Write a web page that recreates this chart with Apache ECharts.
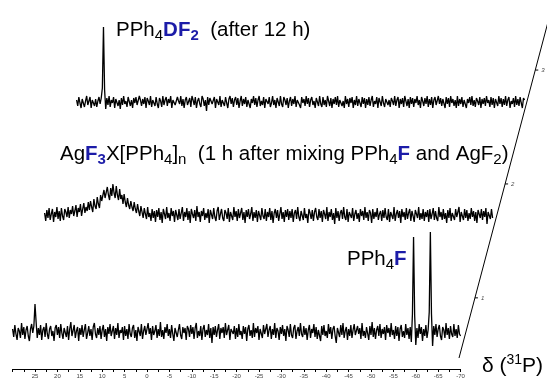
<!DOCTYPE html>
<html>
<head>
<meta charset="utf-8">
<script src="https://cdn.jsdelivr.net/npm/echarts@6/dist/echarts.min.js"></script>
<style>
html,body{margin:0;padding:0;background:#fff}
#Chart{width:547px;height:379px}
</style>
</head>
<body>
<div id="Chart"></div>
<script>
var ppmStart=30,ppmStep=-0.25
var axisMin=-70,axisMax=30,axisInterval=5
var zTicks=['1','2','3']

//PPh4F
var specBottom=[
3,-5,7,-2,-8,4,1,-6,9,-3,5,-7,2,6,-4,-9,3,8,-1,6,
28,10,-6,4,-3,7,-8,2,5,-5,9,-2,-7,3,6,-4,1,-9,4,7,
-3,5,-6,8,-1,-7,4,2,-5,6,-8,3,10,-4,-2,7,-6,1,5,-9,
4,-3,7,-5,2,8,-7,-1,6,-4,3,-8,5,9,-2,-6,4,-3,6,-7,
2,7,-5,3,-9,5,-2,8,-4,1,6,-7,4,-3,9,-6,2,-1,5,-8,
6,-4,3,-7,8,-2,-5,4,7,-6,2,-9,5,3,-4,8,-7,1,6,-3,
-5,9,-2,4,-8,6,-3,1,7,-6,3,-4,10,-5,2,-7,5,-1,8,-4,
3,-6,7,-2,-9,4,6,-5,2,8,-3,-7,5,-1,4,-8,6,3,-5,7,
-2,5,-7,4,9,-6,1,-4,6,-8,3,7,-5,2,-3,8,-6,4,-11,5,
-3,6,-5,2,8,-7,4,-1,5,-6,9,-3,-4,7,-8,3,5,-2,6,-7,
4,-5,8,-3,1,-7,6,-2,5,-9,3,7,-4,2,-6,9,-5,4,-1,6,
-8,3,5,-6,7,-2,-4,8,-5,2,6,-7,3,-3,9,-6,4,1,-8,5,
-2,7,-4,3,-9,6,2,-5,8,-3,-6,4,7,-7,1,5,-4,9,-2,-5,
6,-3,4,-8,2,7,-6,3,-1,8,-5,5,-7,2,4,-9,6,-3,7,-4,
1,-6,8,-2,5,-7,3,6,-4,-11,4,2,-5,7,-3,9,-6,1,5,-8,
3,-4,7,-6,2,8,-3,-5,6,-2,4,-7,9,-4,1,-6,5,3,-8,6,
-3,10,-5,4,-7,2,6,-4,8,-6,3,-2,5,-8,7,-1,4,-5,9,-3,
2,-7,6,-4,5,-9,3,7,-5,1,-6,8,-3,4,-7,5,-10,18,95,16,
-13,4,-6,8,-2,5,-9,3,-4,7,-6,2,20,100,18,-14,6,-3,8,-5,
3,7,-4,-8,5,2,-6,9,-3,4,-7,6,-2,-5,8,-4,3,-6,7,-2,
-4
]

//AgF3X[PPh4]n
var specMiddle=[
2,-6,5,-3,7,-5,1,6,-7,3,-2,8,-4,4,-6,7,-1,-5,6,3,
-2,8,-3,5,1,9,-1,4,10,-2,7,3,11,-1,6,12,2,8,4,13,
5,14,8,3,16,9,6,18,11,7,20,14,12,25,17,15,28,20,15,27,
19,31,22,17,29,20,15,26,16,20,11,21,13,8,17,10,6,14,8,4,
13,6,2,11,4,-1,9,3,-3,7,1,-4,8,-2,2,-6,6,-3,4,-7,
5,-2,7,-5,3,-8,6,1,-4,8,-3,2,-6,7,-1,4,-7,5,3,-5,
6,-4,2,8,-6,3,-2,7,-5,4,-8,6,1,-3,5,-6,9,-2,3,-7,
4,-1,7,-5,2,-3,6,-8,5,3,-4,7,-2,-6,4,8,-5,1,6,-3,
-6,5,2,-4,7,-7,3,1,-5,8,-2,4,-6,6,-3,-1,7,-5,3,-8,
5,-2,6,-4,1,8,-6,3,-3,5,-7,4,2,-5,7,-1,-4,6,-6,3,
-2,7,-5,4,-8,2,6,-3,5,-6,1,8,-4,3,-7,5,-2,6,-5,4,
-3,6,-7,2,5,-4,8,-2,-6,4,3,-5,7,-3,1,-8,6,2,-4,5,
-6,3,7,-2,-5,6,-3,4,-7,5,1,-4,8,-6,3,-2,6,-5,2,-9,
7,-3,4,-6,2,5,-4,8,-2,-5,6,-7,3,4,-3,7,-6,1,5,-4,
2,-7,6,-1,4,-5,8,-3,3,-6,5,2,-8,6,-4,3,-2,7,-5,1,
4,-6,5,-3,7,-2,-5,6,-7,3,2,-4,8,-6,1,5,-3,4,-8,6,
-2,3,-5,7,-4,2,6,-6,4,-1,-7,5,3,-3,8,-5,2,-4,6,-6,
3,-2,5,-7,6,-4,1,7,-5,4,-3,-6,8,-2,3,-5,6,-4,2,-8,
5,-3,7,-6,2,4,-5,6,-2,-4,8,-7,3,1,-5,6,-3,5,-6,2,
-4,7,-2,4,-6,3,-8,5,1,-3,6,-5,4,-2,7,-9,3,5,-4,6,
-3
]

//PPh4DF2
var specTop=[
2,-4,5,-1,-6,3,4,-5,1,6,-3,-2,5,-6,2,4,-4,3,-5,1,
5,-2,4,14,75,12,-7,4,-3,6,-5,2,-1,5,-6,3,4,-4,2,-7,
4,-3,6,-2,1,-5,5,3,-4,2,-6,4,-1,5,-3,-5,6,2,-4,3,
-2,5,-6,4,1,-3,6,-5,2,3,-4,5,-2,-6,4,1,-5,6,-3,2,
5,-4,3,-1,6,-6,2,4,-3,-5,5,1,-2,6,-4,3,-6,2,5,-3,
-1,4,-5,6,2,-3,5,-6,1,4,-2,-5,6,3,-4,2,-9,5,-3,4,
6,-2,-4,5,-6,3,1,-3,6,-5,2,4,-4,5,-1,-6,3,6,-2,4,
-5,2,5,-3,4,-6,1,6,-4,3,-2,5,-5,2,4,-6,3,-1,6,-3,
4,-5,2,6,-4,1,-3,5,-6,3,4,-2,5,-5,-1,6,-3,2,-6,4,
3,-4,6,-2,-5,5,2,-3,4,-6,1,5,-4,3,-2,6,-5,2,4,-3,
-6,5,-1,3,-4,6,-2,4,-5,2,5,-3,1,-6,4,3,-4,6,-2,-5,
5,-3,2,-5,6,1,-4,4,-6,3,-2,5,-3,6,-5,2,4,-4,1,-6,
6,-2,3,-5,4,-1,5,-6,2,-3,6,-4,3,1,-5,5,-2,4,-6,3,
-3,5,-4,2,6,-5,1,-2,5,-6,4,3,-4,6,-1,-5,3,5,-3,2,
-5,4,1,-3,6,-4,2,5,-6,3,-2,4,-5,6,1,-4,3,-6,5,-2,
4,-5,3,-1,6,-3,2,-6,5,1,-4,4,-2,6,-5,3,-3,5,-6,2,
5,-3,-5,6,-2,4,-4,3,1,-6,5,-2,4,-5,6,-1,3,-4,2,-6,
6,-4,3,-2,5,-5,2,4,-6,3,-1,5,-3,6,-4,2,-5,4,1,-3,
5,-6,3,-2,4,-4,6,-1,2,-5,5,-3,4,-6,3,1,-4,6,-2,4,
-5,3,-3,6,-4,2,5,-6,1,-2,4,-5,6,-3,3,-4,5,-1,-6,4,
2
]

var fontName='Liberation Sans'
var blue='#1c1ca8'

//转成[ppm,值]
function toPairs(arr){
	var out=[]
	for(var i=0;i<arr.length;i++){
		out.push([ppmStart+i*ppmStep,arr[i]])
	}
	return out
}

//三层谱图位置
var layers=[
	{data:specBottom,left:12.6,top:232},
	{data:specMiddle,left:44.6,top:115},
	{data:specTop,left:76.6,top:2}
]

function $each(arr,fn){
	for(var i=0;i<arr.length;i++) fn(i,arr[i])
}

function drawChar(){
	var myChart=echarts.init(document.getElementById('Chart'))
	var grid=[],xAxis=[],yAxis=[],series=[]
	$each(layers,function(i,item){
		grid.push({left:item.left,top:item.top,width:448,height:137})
		xAxis.push({
			type:'value',gridIndex:i,inverse:true,
			min:axisMin,max:axisMax,interval:axisInterval,
			show:i==0,
			axisLine:{onZero:false,lineStyle:{color:'#000',width:1}},
			axisTick:{length:3,lineStyle:{color:'#000'}},
			minorTick:{show:true,splitNumber:2,length:3,lineStyle:{color:'#000'}},
			splitLine:{show:false},
			axisLabel:{fontSize:6,color:'#444',margin:4,fontFamily:fontName,showMaxLabel:false}
		})
		yAxis.push({type:'value',gridIndex:i,min:-37,max:100,show:false})
		series.push({
			type:'line',xAxisIndex:i,yAxisIndex:i,
			data:toPairs(item.data),
			showSymbol:false,sampling:null,clip:false,
			lineStyle:{color:'#000',width:1.3}
		})
	})

	//斜轴
	var z0=[459,358],z1=[548,22]
	var graphic=[{type:'line',shape:{x1:z0[0],y1:z0[1],x2:z1[0],y2:z1[1]},style:{stroke:'#000',lineWidth:1}}]
	$each(zTicks,function(k,lab){
		var t=0.179+0.339*k
		var px=z0[0]+(z1[0]-z0[0])*t,py=z0[1]+(z1[1]-z0[1])*t
		graphic.push({type:'line',shape:{x1:px,y1:py,x2:px+3,y2:py},style:{stroke:'#000',lineWidth:1}})
		graphic.push({type:'text',x:px+6,y:py,style:{text:lab,fontSize:6,fontStyle:'italic',fill:'#444',fontFamily:fontName,verticalAlign:'middle'}})
	})

	var rich={
		n:{fontSize:20.5,fontFamily:fontName,fill:'#000'},
		s:{fontSize:15,fontFamily:fontName,fill:'#000',padding:[12,0,0,0]},
		b:{fontSize:20.5,fontFamily:fontName,fontWeight:'bold',fill:blue},
		bs:{fontSize:15,fontFamily:fontName,fontWeight:'bold',fill:blue,padding:[12,0,0,0]},
		d:{fontSize:21,fontFamily:fontName,fill:'#000'},
		sup:{fontSize:14,fontFamily:fontName,fill:'#000',padding:[0,0,12,0]}
	}
	var labels=[
		{x:116,y:30,text:'{n|PPh}{s|4}{b|DF}{bs|2}{n|  (after 12 h)}'},
		{x:60,y:154,text:'{n|Ag}{b|F}{bs|3}{n|X[PPh}{s|4}{n|]}{s|n}{n|  (1 h after mixing PPh}{s|4}{b|F}{n| and AgF}{s|2}{n|)}'},
		{x:347,y:259,text:'{n|PPh}{s|4}{b|F}'},
		{x:482,y:366,text:'{d|δ (}{sup|31}{d|P)}'}
	]
	$each(labels,function(i,item){
		graphic.push({type:'text',x:item.x,y:item.y,style:{text:item.text,rich:rich,verticalAlign:'middle',align:'left'}})
	})

	var option={
		animation:false,
		backgroundColor:'#fff',
		grid:grid,xAxis:xAxis,yAxis:yAxis,series:series,
		graphic:graphic
	}
	myChart.setOption(option)
}

drawChar()
</script>
</body>
</html>
